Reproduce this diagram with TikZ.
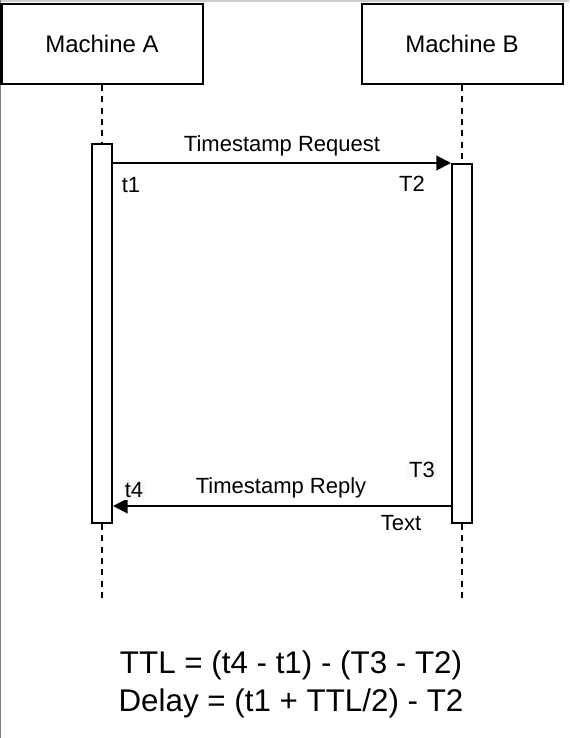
\documentclass[tikz,border=0pt]{standalone}
\usepackage{fontspec}
\setmainfont{Liberation Sans}
\usetikzlibrary{arrows.meta}
\definecolor{hint}{HTML}{F8F9FA}
\tikzset{
  machine/.style={draw,line width=1.5pt,minimum width=150.75pt,minimum height=60pt,inner sep=0pt,font=\fontsize{18}{22}\selectfont},
  bar/.style={draw,line width=1.5pt,fill=white,minimum width=15pt,inner sep=0pt},
  life/.style={-,line width=1.5pt,dash pattern=on 4.5pt off 4pt},
  msg/.style={line width=1.5pt,-{Triangle[length=11pt,width=11pt]}},
  lbl/.style={font=\fontsize{16.5}{19}\selectfont,inner sep=1.5pt},
}

\begin{document}
\begin{tikzpicture}[x=0.75pt,y=-0.75pt]
                \useasboundingbox (0,0) rectangle (569,738);
                % frame
                \draw[line width=1.5pt,black!20] (0,1) -- (569,1);
                \draw[line width=1pt,black!50] (0.5,0) -- (0.5,738);
                % actors and bars
                \node[machine] (macA) at (102,44) {Machine A};
                \node[machine] (macB) at (462,44) {Machine B};
                \node[bar,minimum height=284.25pt] (barA) at (102,333.5) {};
                \node[bar,minimum height=269.25pt] (barB) at (462,343.5) {};
                \coordinate (endA) at (102,603);
                \coordinate (endB) at (462,603);
                \coordinate (rep) at (462,506);
                \draw[life] (macA.south) -- (barA.north);
                \draw[life] (barA.south) -- (endA);
                \draw[life] (macB.south) -- (barB.north);
                \draw[life] (barB.south) -- (endB);
                % messages
                \draw[msg] (barA.east |- barB.north) -- (barB.north west);
                \draw[msg] (barB.west |- rep) -- (barA.east |- rep);
                \node[lbl] (req) at (282,146) {Timestamp Request};
                \node[lbl] (rpl) at (281,488) {Timestamp Reply};
                \node[lbl] (t1) at (131,185) {t1};
                \node[lbl] (T2) at (412,184) {T2};
                \node[lbl,fill=hint] (T3) at (422,470) {T3};
                \node[lbl,fill=hint] (t4) at (134,490) {t4};
                \node[lbl] (txt) at (401,523) {Text};
                \node[font=\fontsize{23.5}{28.5}\selectfont,align=center] (eq) at (291,684) {TTL = (t4 - t1) - (T3 - T2)\\Delay = (t1 + TTL/2) - T2};
            \end{tikzpicture}
\end{document}
